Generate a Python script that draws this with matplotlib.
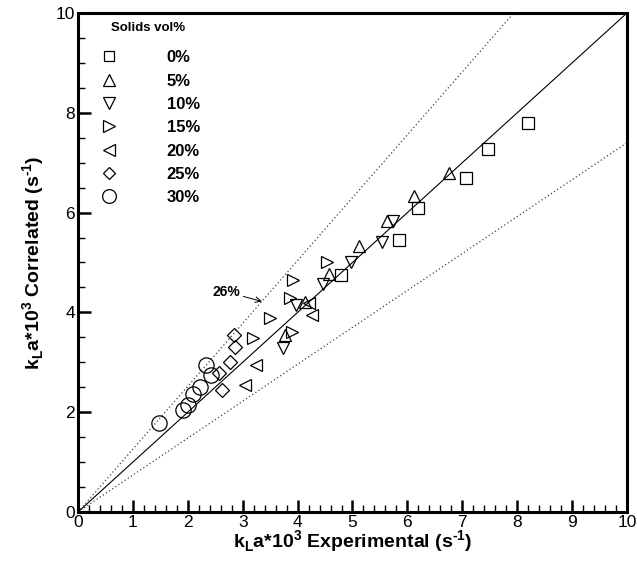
import numpy as np
import matplotlib
matplotlib.use('Agg')
import matplotlib.pyplot as plt
from matplotlib.ticker import MultipleLocator

plt.rcParams['font.family'] = ['Liberation Sans', 'DejaVu Sans']
plt.rcParams['mathtext.fontset'] = 'custom'
plt.rcParams['mathtext.rm'] = 'Liberation Sans:bold'
plt.rcParams['mathtext.bf'] = 'Liberation Sans:bold'

# data: (experimental, correlated) kLa*10^3
labels = ['0%', '5%', '10%', '15%', '20%', '25%', '30%']
x0 = [8.20, 7.47, 7.07, 6.19, 5.85, 4.79]
y0 = [7.79, 7.27, 6.69, 6.10, 5.45, 4.74]
x5 = [6.75, 6.12, 5.62, 5.12, 4.58, 4.13, 3.77]
y5 = [6.80, 6.34, 5.84, 5.33, 4.77, 4.21, 3.55]
x10 = [5.74, 5.53, 4.97, 4.47, 3.98, 3.74]
y10 = [5.84, 5.42, 5.00, 4.56, 4.15, 3.28]
x15 = [4.53, 3.92, 3.86, 3.50, 3.89, 3.19]
y15 = [5.00, 4.65, 4.28, 3.88, 3.61, 3.48]
x20 = [4.26, 4.20, 3.25, 3.04]
y20 = [3.95, 4.18, 2.95, 2.55]
x25 = [2.84, 2.86, 2.77, 2.56, 2.62]
y25 = [3.55, 3.31, 3.01, 2.78, 2.44]
x30 = [2.34, 2.43, 2.23, 2.10, 2.01, 1.91, 1.48]
y30 = [2.95, 2.75, 2.51, 2.36, 2.14, 2.04, 1.78]

dev = 0.26
line_x = [0, 10]

fig = plt.figure(figsize=(6.37, 5.65), dpi=100)
ax = fig.add_axes([0.1224, 0.0938, 0.8619, 0.8832])

ax.plot(line_x, line_x, color='black', lw=0.8)
ax.plot(line_x, [v * (1 + dev) for v in line_x], color='0.25', lw=0.9, ls=(0, (1, 2)))
ax.plot(line_x, [v * (1 - dev) for v in line_x], color='0.25', lw=0.9, ls=(0, (1, 2)))

series = [(x0, y0, 's', 8), (x5, y5, '^', 9), (x10, y10, 'v', 9), (x15, y15, '>', 9),
          (x20, y20, '<', 9), (x25, y25, 'D', 7), (x30, y30, 'o', 11)]
for (xs, ys, m, ms), lab in zip(series, labels):
    ax.plot(xs, ys, ls='none', marker=m, ms=ms, mfc='none', mec='black', mew=0.9, label=lab)

ax.annotate('26%', xy=(3.35, 4.22), xytext=(2.71, 4.41), ha='center', va='center',
            fontsize=10, fontweight='bold',
            arrowprops=dict(arrowstyle='->', color='black', lw=0.7, shrinkA=0, shrinkB=0))

ax.text(0.061, 0.97, 'Solids vol%', transform=ax.transAxes, ha='left', va='center',
        fontsize=9.5, fontweight='bold')
leg = ax.legend(loc='upper left', bbox_to_anchor=(0.011, 0.952), frameon=False,
                prop={'weight': 'bold', 'size': 12}, handletextpad=2.75, labelspacing=0.5,
                borderaxespad=0.4, handlelength=1.4, markerscale=0.9)

ax.set_xlim(0, 10)
ax.set_ylim(0, 10)
ax.xaxis.set_major_locator(MultipleLocator(1))
ax.xaxis.set_minor_locator(MultipleLocator(0.2))
ax.yaxis.set_major_locator(MultipleLocator(2))
ax.yaxis.set_minor_locator(MultipleLocator(0.5))
ax.tick_params(which='major', direction='in', length=9, width=1.8, labelsize=12.5, pad=2)
ax.tick_params(which='minor', direction='in', length=5, width=1.0)
for s in ax.spines.values():
    s.set_linewidth(2.2)

ax.set_xlabel('k$_{\\mathbf{L}}$a*10$^{\\mathbf{3}}$ Experimental (s$^{\u2010\\mathbf{1}}$)',
              fontsize=14, fontweight='bold', labelpad=-1)
ax.set_ylabel('k$_{\\mathbf{L}}$a*10$^{\\mathbf{3}}$ Correlated (s$^{\u2010\\mathbf{1}}$)',
              fontsize=14, fontweight='bold', labelpad=6)

fig.savefig('out.png', dpi=100)
